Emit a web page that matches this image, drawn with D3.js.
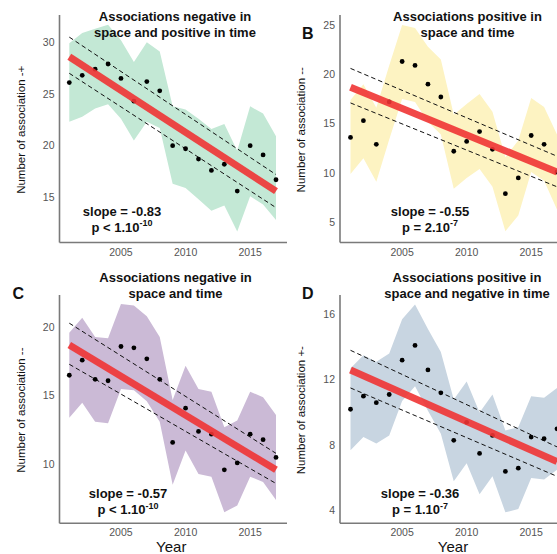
<!DOCTYPE html>
<html>
<head>
<meta charset="utf-8">
<script src="https://cdn.jsdelivr.net/npm/d3@7"></script>
<style>
  body { margin: 0; background: #fff; }
  svg { display: block; font-family: "Liberation Sans", Arial, sans-serif; }
</style>
</head>
<body>
<svg id="chart" width="557" height="554"></svg>
<script>
// years on the x axis
const years = [2001, 2002, 2003, 2004, 2005, 2006, 2007, 2008, 2009, 2010, 2011, 2012, 2013, 2014, 2015, 2016, 2017];
const xTicks = [2005, 2010, 2015];

// A : negative in space, positive in time
const countsA = [26.1, 26.8, 27.4, 27.9, 26.5, 24.3, 26.2, 25.3, 20.0, 19.7, 18.7, 17.6, 18.2, 15.6, 20.0, 19.1, 16.7];
const upperA  = [29.9, 30.9, 31.3, 31.7, 30.2, 28.1, 30.0, 29.1, 23.8, 23.5, 22.6, 21.6, 22.1, 19.5, 23.8, 23.1, 20.9];
const lowerA  = [22.3, 22.8, 23.6, 24.0, 22.6, 20.5, 22.3, 21.7, 16.3, 15.9, 14.8, 13.7, 14.2, 11.7, 15.1, 14.3, 12.8];
const fitA = [28.6, 15.6], fitHiA = [30.5, 17.2], fitLoA = [27.0, 14.0];
const ticksA = [15, 20, 25, 30];

// B : positive in space and time
const countsB = [13.6, 15.3, 12.9, 17.2, 21.3, 20.9, 19.0, 17.7, 12.2, 13.2, 14.2, 12.4, 7.9, 9.5, 13.8, 12.9, 10.1];
const upperB  = [17.4, 19.0, 16.6, 20.9, 25.0, 24.7, 22.8, 21.5, 15.9, 17.0, 18.0, 16.2, 11.6, 13.3, 17.6, 16.7, 13.9];
const lowerB  = [9.9, 11.5, 9.1, 13.4, 17.5, 17.2, 15.2, 13.9, 8.4, 9.5, 10.4, 8.6, 4.1, 5.7, 10.1, 9.2, 6.3];
const fitB = [18.7, 10.1], fitHiB = [20.6, 11.7], fitLoB = [17.1, 8.6];
const ticksB = [5, 10, 15, 20, 25];

// C : negative in space and time
const countsC = [16.5, 17.6, 16.2, 16.1, 18.6, 18.5, 17.7, 16.2, 11.6, 14.1, 12.4, 12.2, 9.6, 10.1, 12.2, 11.8, 10.5];
const upperC  = [19.6, 20.7, 19.3, 19.2, 21.7, 21.6, 20.8, 19.3, 14.7, 17.2, 15.5, 15.3, 12.7, 13.2, 15.3, 14.9, 13.6];
const lowerC  = [13.4, 14.5, 13.1, 13.0, 15.5, 15.4, 14.6, 13.1, 8.5, 11.0, 9.3, 9.1, 6.5, 7.0, 9.1, 8.7, 7.4];
const fitC = [18.7, 9.6], fitHiC = [20.3, 10.8], fitLoC = [17.3, 8.6];
const ticksC = [10, 15, 20];

// D : positive in space, negative in time
const countsD = [10.2, 11.0, 10.6, 11.1, 13.2, 14.1, 12.6, 11.2, 8.3, 9.4, 7.5, 8.6, 6.4, 6.6, 8.5, 8.4, 9.0];
const upperD  = [12.7, 13.5, 13.1, 13.6, 15.7, 16.6, 15.1, 13.7, 10.8, 11.9, 10.0, 11.1, 8.9, 9.1, 11.0, 10.9, 11.5];
const lowerD  = [7.7, 8.5, 8.1, 8.6, 10.7, 11.6, 10.1, 8.7, 5.8, 6.9, 5.0, 6.1, 3.9, 4.1, 6.0, 5.9, 6.5];
const fitD = [12.6, 7.0], fitHiD = [13.8, 7.9], fitLoD = [11.5, 6.1];
const ticksD = [4, 8, 12, 16];

const panels = [
  {tag: "", title: ["Associations negative in", "space and positive in time"], ylab: "Number of association -+",
   counts: countsA, upper: upperA, lower: lowerA, fit: fitA, hi: fitHiA, lo: fitLoA, ticks: ticksA,
   fill: "#c3e8d5", slope: "-0.83", p: ["p < 1.10", "-10"],
   left: 59.5, top: 15, bottom: 242.5, right: 287, x0: 69.3, x1: 276, yd: [30, 15], yr: [42.3, 197.3],
   titleX: 175, titleY: 21, ylabX: 20.5, statX: 122, statY: 215.5, showX: false},
  {tag: "B", tagX: 302, tagY: 38.5, title: ["Associations positive in", "space and time"], ylab: "Number of association --",
   counts: countsB, upper: upperB, lower: lowerB, fit: fitB, hi: fitHiB, lo: fitLoB, ticks: ticksB,
   fill: "#fdf3c2", slope: "-0.55", p: ["p = 2.10", "-7"],
   left: 340, top: 15, bottom: 242.5, right: 570, x0: 350.5, x1: 557, yd: [25, 5], yr: [25, 222.3],
   titleX: 467.5, titleY: 21, ylabX: 301, statX: 430, statY: 215.5, showX: false},
  {tag: "C", tagX: 12.5, tagY: 298.5, title: ["Associations negative in", "space and time"], ylab: "Number of association --",
   counts: countsC, upper: upperC, lower: lowerC, fit: fitC, hi: fitHiC, lo: fitLoC, ticks: ticksC,
   fill: "#cbbad6", slope: "-0.57", p: ["p < 1.10", "-10"],
   left: 59.5, top: 295, bottom: 523.3, right: 287, x0: 69.3, x1: 276, yd: [20, 10], yr: [327.3, 464.3],
   titleX: 175.5, titleY: 282, ylabX: 20.5, statX: 128, statY: 498, showX: true},
  {tag: "D", tagX: 302, tagY: 298.5, title: ["Associations positive in", "space and negative in time"], ylab: "Number of association +-",
   counts: countsD, upper: upperD, lower: lowerD, fit: fitD, hi: fitHiD, lo: fitLoD, ticks: ticksD,
   fill: "#c8d5e1", slope: "-0.36", p: ["p = 1.10", "-7"],
   left: 340, top: 295, bottom: 523.3, right: 570, x0: 350.5, x1: 557, yd: [16, 4], yr: [314.3, 510.7],
   titleX: 467, titleY: 282, ylabX: 301, statX: 420, statY: 498, showX: true}
];

const svg = d3.select("#chart");

panels.forEach(drawPanel);

function drawPanel(p) {
  const g = svg.append("g");
  const x = d3.scaleLinear().domain([years[0], years[years.length - 1]]).range([p.x0, p.x1]);
  const y = d3.scaleLinear().domain(p.yd).range(p.yr);

  //ribbon
  const area = d3.area()
    .x((d, i) => x(years[i]))
    .y0((d, i) => y(p.lower[i]))
    .y1((d, i) => y(p.upper[i]));
  g.append("path").attr("d", area(p.counts)).attr("fill", p.fill);

  //dashed bounds
  const ends = [years[0], years[years.length - 1]];
  const line = d3.line().x((d, i) => x(ends[i])).y(d => y(d));
  [p.hi, p.lo].forEach(b => {
    g.append("path").attr("d", line(b))
      .attr("fill", "none").attr("stroke", "#111").attr("stroke-width", 1)
      .attr("stroke-dasharray", "4.5,3");
  });

  //points
  g.selectAll(".pt").data(p.counts).enter().append("circle")
    .attr("cx", (d, i) => x(years[i]))
    .attr("cy", d => y(d))
    .attr("r", 2.4)
    .attr("fill", "#000");

  //fitted line
  g.append("path").attr("d", line(p.fit))
    .attr("fill", "none").attr("stroke", "#f03434").attr("stroke-opacity", 0.9)
    .attr("stroke-width", 7);

  //axes lines
  g.append("line").attr("x1", p.left).attr("x2", p.left).attr("y1", p.top).attr("y2", p.bottom)
    .attr("stroke", "#7a7a7a").attr("stroke-width", 1.6);
  g.append("line").attr("x1", p.left).attr("x2", p.right).attr("y1", p.bottom).attr("y2", p.bottom)
    .attr("stroke", "#7a7a7a").attr("stroke-width", 1.6);

  //tick labels
  g.selectAll(".yt").data(p.ticks).enter().append("text")
    .attr("x", p.left - 5).attr("y", d => y(d)).attr("dy", "0.35em")
    .attr("text-anchor", "end").attr("font-size", 10.5).attr("fill", "#555")
    .text(d => d);
  g.selectAll(".xt").data(xTicks).enter().append("text")
    .attr("x", d => x(d)).attr("y", p.bottom + 9.5).attr("dy", "0.35em")
    .attr("text-anchor", "middle").attr("font-size", 10.5).attr("fill", "#555")
    .text(d => d);

  //y label
  g.append("text")
    .attr("transform", `translate(${p.ylabX},${(p.top + p.bottom) / 2 + 1}) rotate(-90)`)
    .attr("dy", "0.35em").attr("text-anchor", "middle").attr("font-size", 11.5).attr("fill", "#111")
    .text(p.ylab);

  if (p.showX) {
    g.append("text").attr("x", (p.left + p.right) / 2 - 2).attr("y", p.bottom + 29)
      .attr("text-anchor", "middle").attr("font-size", 15).attr("fill", "#111")
      .text("Year");
  }

  //title
  p.title.forEach((t, i) => {
    g.append("text").attr("x", p.titleX).attr("y", p.titleY + i * 16)
      .attr("text-anchor", "middle").attr("font-size", 13).attr("font-weight", "bold").attr("fill", "#111")
      .text(t);
  });

  if (p.tag) {
    g.append("text").attr("x", p.tagX).attr("y", p.tagY)
      .attr("font-size", 16).attr("font-weight", "bold").attr("fill", "#111")
      .text(p.tag);
  }

  //stats
  g.append("text").attr("x", p.statX).attr("y", p.statY)
    .attr("text-anchor", "middle").attr("font-size", 13).attr("font-weight", "bold").attr("fill", "#111")
    .text("slope = " + p.slope);
  const pt = g.append("text").attr("x", p.statX).attr("y", p.statY + 16)
    .attr("text-anchor", "middle").attr("font-size", 13).attr("font-weight", "bold").attr("fill", "#111");
  pt.append("tspan").text(p.p[0]);
  pt.append("tspan").attr("font-size", 9).attr("dy", -5.5).text(p.p[1]);
}
</script>
</body>
</html>
